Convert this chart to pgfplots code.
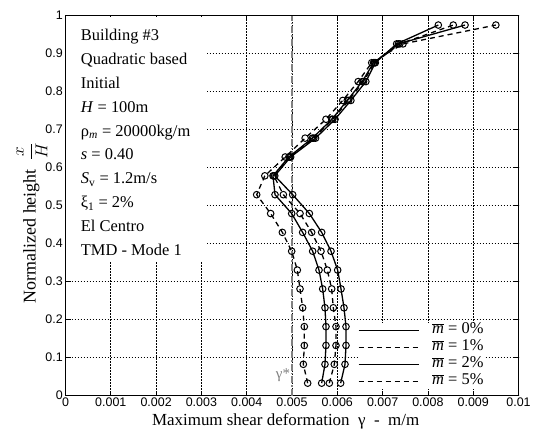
\documentclass[border=0pt]{standalone}
\usepackage{fontspec}
\setmainfont{Liberation Serif}
\setsansfont{Liberation Sans}
\usepackage{pgfplots}
\usepackage{pgfplotstable}
\pgfplotsset{compat=1.18}
\pgfplotsset{layers/mylayers/.define layer set={axis background,axis grid,pre main,axis ticks,axis lines,axis tick labels,main,axis descriptions,axis foreground}{}}

\pgfplotstableread{
y x0 x1 x2 x5
0.0330 0.006074 0.005824 0.005655 0.005346
0.0826 0.006170 0.005934 0.005728 0.005250
0.1322 0.006192 0.005971 0.005750 0.005272
0.1818 0.006192 0.005971 0.005750 0.005272
0.2314 0.006148 0.005912 0.005728 0.005235
0.2810 0.006082 0.005876 0.005677 0.005177
0.3306 0.006008 0.005780 0.005596 0.005118
0.3802 0.005861 0.005640 0.005456 0.004993
0.4298 0.005655 0.005434 0.005235 0.004787
0.4794 0.005383 0.005177 0.004993 0.004529
0.5290 0.005015 0.004809 0.004625 0.004220
0.5786 0.004620 0.004600 0.004580 0.004400
0.6282 0.004970 0.004950 0.004930 0.004850
0.6778 0.005520 0.005480 0.005450 0.005290
0.7274 0.005950 0.005900 0.005880 0.005750
0.7770 0.006300 0.006250 0.006220 0.006120
0.8266 0.006630 0.006580 0.006550 0.006460
0.8762 0.006840 0.006820 0.006800 0.006760
0.9258 0.007310 0.007380 0.007350 0.007450
0.9754 0.008230 0.008560 0.008820 0.009500
}\data

\begin{document}
\begin{tikzpicture}
\begin{axis}[
  set layers=mylayers,
  at={(0,0)}, anchor=south west,
  scale only axis, width=453bp, height=380bp,
  xmin=0, xmax=0.01, ymin=0, ymax=1,
  scaled x ticks=false, scaled y ticks=false,
  xtick={0,0.001,0.002,0.003,0.004,0.005,0.006,0.007,0.008,0.009,0.01},
  xticklabels={0,0.001,0.002,0.003,0.004,0.005,0.006,0.007,0.008,0.009,0.01},
  ytick={0,0.1,0.2,0.3,0.4,0.5,0.6,0.7,0.8,0.9,1},
  yticklabels={0,0.1,0.2,0.3,0.4,0.5,0.6,0.7,0.8,0.9,1},
  tick align=inside, major tick length=5bp,
  tick style={black, line width=0.8bp},
  ticklabel style={font=\sffamily\fontsize{12.5}{14}\selectfont},
  xticklabel style={inner sep=1.5bp},
  yticklabel style={inner sep=2.5bp},
  axis line style={line width=1.2bp},
  grid=major,
  major grid style={black, line width=0.7bp, dash pattern=on 1.2bp off 1.8bp},
  clip=false,
  legend style={at={(rel axis cs:0.645,0.018)}, anchor=south west, draw=none, fill=white,
    inner sep=0pt, row sep=2bp, column sep=12bp,
    font=\fontsize{16.5}{18}\selectfont,
    nodes={inner sep=1bp, text height=10bp, text depth=3bp}},
  legend cell align=left,
  legend image code/.code={\draw[#1] (0bp,0bp) -- (60bp,0bp);},
]
\fill[white, on layer=pre main] (axis cs:0.00002,0.352) rectangle (axis cs:0.00312,0.997);

\addplot[gray, line width=1.1bp, dash pattern=on 7bp off 2bp on 1.5bp off 2bp, forget plot] coordinates {(0.005,0) (0.005,1)};

\addplot[black, line width=1.3bp, mark=o, mark size=3.3bp, mark options={solid, line width=1bp}] table[x=x0, y=y] {\data};
\addlegendentry{$\overline{\mbox{\textit{m}}}$ = 0\%}
\addplot[black, line width=1.3bp, dash pattern=on 5bp off 4bp, mark=o, mark size=3.3bp, mark options={solid, line width=1bp}] table[x=x1, y=y] {\data};
\addlegendentry{$\overline{\mbox{\textit{m}}}$ = 1\%}
\addplot[black, line width=1.3bp, mark=o, mark size=3.3bp, mark options={solid, line width=1bp}] table[x=x2, y=y] {\data};
\addlegendentry{$\overline{\mbox{\textit{m}}}$ = 2\%}
\addplot[black, line width=1.3bp, dash pattern=on 5bp off 4bp, mark=o, mark size=3.3bp, mark options={solid, line width=1bp}] table[x=x5, y=y] {\data};
\addlegendentry{$\overline{\mbox{\textit{m}}}$ = 5\%}

\begin{scope}[every node/.style={anchor=base west, inner sep=0pt, font=\fontsize{16.5}{20}\selectfont}]
\node at (axis cs:0.000336,0.934) {Building \#3};
\node at (axis cs:0.000336,0.8713) {Quadratic based};
\node at (axis cs:0.000336,0.8086) {Initial};
\node at (axis cs:0.000336,0.7459) {\textit{H} = 100m};
\node at (axis cs:0.000336,0.6832) {ρ\textsubscript{\textit{m}} = 20000kg/m};
\node at (axis cs:0.000336,0.6205) {\textit{s} = 0.40};
\node at (axis cs:0.000336,0.5578) {\textit{S}\textsubscript{v} = 1.2m/s};
\node at (axis cs:0.000336,0.4951) {ξ\textsubscript{1} = 2\%};
\node at (axis cs:0.000336,0.4324) {El Centro};
\node at (axis cs:0.000336,0.3697) {TMD - Mode 1};
\end{scope}
\node[gray, font=\fontsize{15}{17}\selectfont, anchor=base east, inner sep=0pt] at (axis cs:0.00496,0.045) {γ*};

\node[yshift=-30bp, anchor=base, inner sep=0pt, font=\fontsize{17}{19}\selectfont] at (axis cs:0.00486,0) {Maximum shear deformation\enspace γ\enspace -\enspace m/m};
\node[xshift=-33.5bp, rotate=90, anchor=center, inner sep=0pt, font=\fontsize{18}{20}\selectfont] at (axis cs:0,0.455) {Normalized height\enspace $\displaystyle\frac{x}{H}$};
\end{axis}
\pgfresetboundingbox
\path[use as bounding box] (-65.5bp,-39.3bp) rectangle (467.5bp,395.7bp);
\end{tikzpicture}
\end{document}
